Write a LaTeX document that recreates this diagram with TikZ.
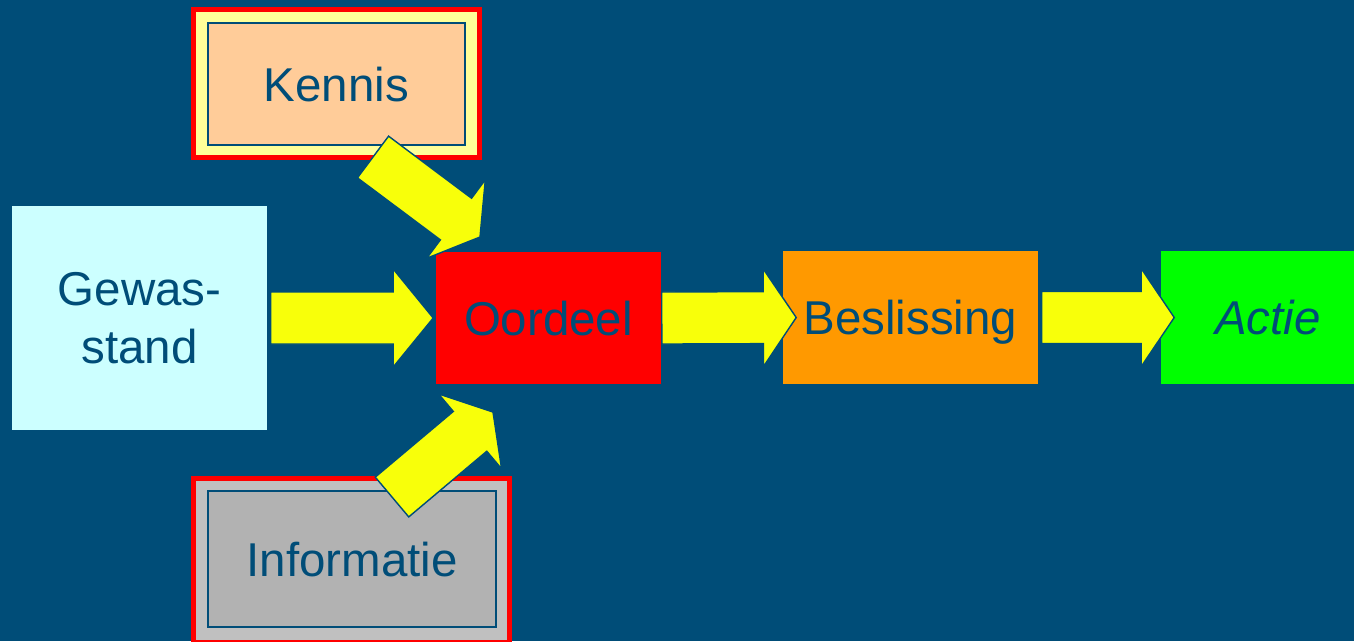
\documentclass[tikz,border=0pt]{standalone}
\usepackage{fontspec}
\setmainfont{Liberation Sans}
\usetikzlibrary{calc}

\definecolor{bgblue}{RGB}{0,77,120}
\definecolor{arrowyellow}{RGB}{248,255,10}
\definecolor{peach}{RGB}{255,204,153}
\definecolor{paleyellow}{RGB}{255,255,153}
\definecolor{palecyan}{RGB}{204,255,255}
\definecolor{boxorange}{RGB}{255,153,0}
\definecolor{boxgreen}{RGB}{0,255,0}
\definecolor{lightgrey}{RGB}{192,192,192}
\definecolor{midgrey}{RGB}{178,178,178}

\tikzset{
  box/.style={rectangle, inner sep=0pt, text=bgblue, align=center,
    font=\fontsize{13.5}{16.5}\selectfont},
  oneline/.style={box, text height=9.7pt, text depth=0pt},
  frame/.style={rectangle, draw=red, line width=0.05cm, inner sep=0pt},
  inner frame/.style={oneline, draw=bgblue, line width=0.6pt},
  block arrow/.style={fill=arrowyellow, draw=bgblue, line width=0.4pt, line join=miter}
}

% block arrow from back (#2) to tip (#3), #1 = head length
\newcommand{\blockarrow}[3][0.33cm]{%
  \coordinate (hb) at ($(#3)!#1!(#2)$);
  \draw[block arrow] ($(#2)!0.26cm!90:(#3)$) -- ($(hb)!0.26cm!90:(#3)$)
    -- ($(hb)!0.49cm!90:(#3)$) -- (#3) -- ($(hb)!0.49cm!-90:(#3)$)
    -- ($(hb)!0.26cm!-90:(#3)$) -- ($(#2)!0.26cm!-90:(#3)$) -- cycle;
}

\begin{document}
\begin{tikzpicture}[x=0.01cm, y=-0.01cm]
\clip (0,0) rectangle (1354,641);
\fill[bgblue] (0,0) rectangle (1354,641);

% sources
\node[frame, fill=paleyellow, minimum width=2.86cm, minimum height=1.48cm] (kennis frame) at (336.5,83.5) {};
\node[inner frame, fill=peach, minimum width=2.57cm, minimum height=1.22cm] (kennis) at (336.5,84) {Kennis};

\node[box, fill=palecyan, minimum width=2.55cm, minimum height=2.24cm] (gewas) at (139.5,318) {Gewas-\\stand};

\node[frame, fill=lightgrey, minimum width=3.16cm, minimum height=1.64cm] (informatie frame) at (351.5,560.5) {};
\node[inner frame, fill=midgrey, minimum width=2.88cm, minimum height=1.36cm] (informatie) at (352,559) {Informatie};

% chain
\node[oneline, fill=red, minimum width=2.25cm, minimum height=1.32cm] (oordeel) at (548.5,318) {Oordeel};
\node[oneline, fill=boxorange, minimum width=2.55cm, minimum height=1.33cm] (beslissing) at (910.5,317.5) {Beslissing};
\node[oneline, fill=boxgreen, minimum width=2.14cm, minimum height=1.33cm] (actie) at (1268,317.5) {\itshape Actie};

% arrows
\coordinate (gewas out) at ([xshift=0.03cm]gewas.east);
\coordinate (oordeel in) at ([xshift=-0.02cm]oordeel.west);
\coordinate (beslissing in) at ([xshift=0.14cm]beslissing.west);
\coordinate (beslissing out) at ([xshift=0.03cm]beslissing.east);
\coordinate (actie in) at ([xshift=0.14cm]actie.west);
\coordinate (kennis out) at (373,157);
\coordinate (oordeel top) at (480,237);
\coordinate (informatie out) at (392,497);
\coordinate (oordeel bottom) at (493,412);

\blockarrow[0.4cm]{gewas out}{oordeel in}
\blockarrow{oordeel.east}{beslissing in}
\blockarrow{beslissing out}{actie in}
\blockarrow[0.3cm]{kennis out}{oordeel top}
\blockarrow[0.3cm]{informatie out}{oordeel bottom}
\end{tikzpicture}
\end{document}
